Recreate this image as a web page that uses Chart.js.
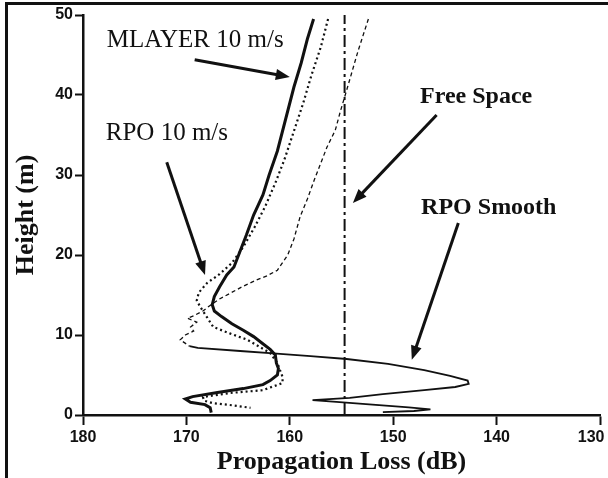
<!DOCTYPE html>
<html>
<head>
<meta charset="utf-8">
<script src="https://cdn.jsdelivr.net/npm/chart.js@4.4.0/dist/chart.umd.min.js"></script>
<style>
  html, body { margin: 0; padding: 0; background: #fff; }
  #wrap { position: relative; width: 608px; height: 478px; overflow: hidden; }
  #frame { position: absolute; left: 5px; top: 2px; right: -5px; bottom: -5px; border-left: 3px solid #111; border-top: 3px solid #111; }
  canvas { position: absolute; left: 0; top: 0; }
</style>
</head>
<body>
<div id="wrap"><div id="frame"></div><canvas id="chart" width="608" height="478"></canvas></div>
<script>
const ink = '#111';

// [propagation loss (dB), height (m)], top to bottom
const mlayer = [
  [157.7, 49.5], [158.3, 47], [158.9, 44], [159.6, 41], [160.4, 37], [161.2, 33],
  [162.0, 30], [162.6, 27.5], [163.5, 25], [164.2, 22.5], [164.8, 20.5], [165.4, 18.5],
  [166.1, 17.5], [166.8, 16.0], [167.3, 14.8], [167.5, 13.8], [167.3, 13.0], [166.6, 12.3],
  [165.6, 11.4], [164.5, 10.6], [163.5, 9.8], [162.7, 9.0], [161.9, 8.2], [161.4, 7.5],
  [161.3, 6.5], [161.1, 5.8], [161.2, 5.0], [161.9, 4.3], [162.6, 3.8], [164.5, 3.3],
  [167.0, 2.8], [169.4, 2.3], [170.1, 2.0], [169.6, 1.6], [168.2, 1.3], [167.7, 0.9], [167.6, 0.3]
];

const rpo10 = [
  [156.3, 49.5], [157.0, 46], [157.9, 42.5], [158.7, 39], [159.6, 35.5], [160.5, 32],
  [161.4, 29], [162.4, 26], [163.4, 23.5], [164.5, 21], [165.6, 19], [166.8, 17.6],
  [168.0, 16.5], [168.8, 15.3], [169.0, 14.3], [168.6, 13.4], [168.0, 12.2], [167.4, 11.0],
  [165.8, 10.2], [164.1, 9.4], [162.9, 8.5], [161.9, 7.75], [161.2, 6.5], [160.7, 4.75],
  [160.7, 4.0], [162.6, 3.1], [165.8, 2.75], [168.4, 2.25], [168.3, 1.8], [167.5, 1.5],
  [165.5, 1.2], [163.8, 0.9]
];

const rpoSmooth = [
  [152.4, 49.5], [153.4, 45.5], [154.5, 40.6], [155.1, 38], [155.6, 35.6], [156.4, 33.5],
  [157.0, 31.5], [157.6, 29.5], [158.3, 27], [159.0, 24.8], [159.6, 22], [160.2, 20],
  [161.2, 18.1], [162.2, 17.4], [163.2, 16.9], [164.5, 16.1], [165.8, 15.2], [166.8, 14.5],
  [167.6, 13.8], [168.4, 13.0], [169.3, 12.4], [169.9, 12.1], [169.0, 11.6], [169.6, 11.0],
  [169.3, 10.5], [170.1, 10.0], [170.6, 9.4], [169.7, 8.6], [168.9, 8.4], [164.8, 8.0],
  [161.6, 7.7], [158.0, 7.35], [154.5, 7.0], [150.5, 6.4], [147.0, 5.6], [144.5, 4.9],
  [142.8, 4.3], [142.7, 3.9], [144.0, 3.5], [147.0, 3.1], [151.0, 2.6], [154.2, 2.15],
  [157.8, 1.85], [155.5, 1.65], [152.0, 1.3], [148.5, 0.95], [146.4, 0.7], [148.0, 0.5], [151.0, 0.35]
];

const freeSpace = [[154.7, 0], [154.7, 50]];

const xTicks = [180, 170, 160, 150, 140, 130];
const yTicks = [0, 10, 20, 30, 40, 50];

// annotation labels and arrows, in data units
const noteText = ['MLAYER 10 m/s', 'RPO 10 m/s', 'Free Space', 'RPO Smooth'];
const noteLoss = [177.7, 177.8, 147.4, 147.3];
const noteHeight = [46, 34.4, 39, 25.1];
const noteBold = [false, false, true, true];
// [from loss, from height, to loss, to height]
const arrows = [
  [169.2, 44.4, 160.0, 42.25],
  [171.9, 31.6, 168.2, 17.5],
  [145.8, 37.5, 153.9, 26.5],
  [143.7, 24.0, 148.2, 6.9]
];

const toPoints = (rows) => rows.map(([x, y]) => ({ x, y }));

const notesPlugin = {
  id: 'notes',
  afterDatasetsDraw(chart) {
    const { ctx, scales: { x, y } } = chart;
    ctx.save();
    ctx.fillStyle = ink;
    ctx.strokeStyle = ink;
    arrows.forEach(([l0, h0, l1, h1]) => {
      const ax = x.getPixelForValue(l0), ay = y.getPixelForValue(h0);
      const bx = x.getPixelForValue(l1), by = y.getPixelForValue(h1);
      const ang = Math.atan2(by - ay, bx - ax);
      const c = Math.cos(ang), s = Math.sin(ang);
      const len = 14, half = 5.5;
      ctx.lineWidth = 3;
      ctx.beginPath();
      ctx.moveTo(ax, ay);
      ctx.lineTo(bx - len * 0.8 * c, by - len * 0.8 * s);
      ctx.stroke();
      ctx.beginPath();
      ctx.moveTo(bx, by);
      ctx.lineTo(bx - len * c + half * s, by - len * s - half * c);
      ctx.lineTo(bx - len * c - half * s, by - len * s + half * c);
      ctx.closePath();
      ctx.fill();
    });
    ctx.textBaseline = 'alphabetic';
    ctx.textAlign = 'left';
    noteText.forEach((t, i) => {
      ctx.font = noteBold[i] ? 'bold 24px "Liberation Serif"' : '25px "Liberation Serif"';
      ctx.fillText(t, x.getPixelForValue(noteLoss[i]), y.getPixelForValue(noteHeight[i]));
    });
    ctx.restore();
  }
};

const fixBox = (size) => (scale) => {
  if (scale.isHorizontal()) scale.height = size; else scale.width = size;
  scale.paddingLeft = 0; scale.paddingRight = 0;
  scale.paddingTop = 0; scale.paddingBottom = 0;
};

const tickFont = { family: '"Liberation Sans"', size: 16, weight: 'bold' };
const titleFont = { family: '"Liberation Serif"', size: 26, weight: 'bold' };

new Chart(document.getElementById('chart'), {
  type: 'scatter',
  data: {
    datasets: [
      {
        label: 'MLAYER 10 m/s', data: toPoints(mlayer), showLine: true,
        borderColor: ink, borderWidth: 3, pointRadius: 0, tension: 0
      },
      {
        label: 'RPO 10 m/s', data: toPoints(rpo10), showLine: true,
        borderColor: ink, borderWidth: 2.2, borderDash: [2, 3], pointRadius: 0, tension: 0
      },
      {
        label: 'RPO Smooth', data: toPoints(rpoSmooth), showLine: true,
        borderColor: ink, borderWidth: 1.4, pointRadius: 0, tension: 0,
        segment: {
          borderDash: (c) => (c.p0.parsed.y > 8.5 && c.p1.parsed.y > 8.5 ? [4, 3] : []),
          borderWidth: (c) => (c.p0.parsed.y > 8.5 && c.p1.parsed.y > 8.5 ? 1.3 : 1.8)
        }
      },
      {
        label: 'Free Space', data: toPoints(freeSpace), showLine: true,
        borderColor: ink, borderWidth: 2, borderDash: [12, 4, 3, 4], pointRadius: 0
      }
    ]
  },
  options: {
    responsive: false,
    animation: false,
    layout: { padding: { top: 15, right: 8, left: 0, bottom: 0 } },
    plugins: { legend: { display: false }, tooltip: { enabled: false } },
    scales: {
      x: {
        type: 'linear', reverse: true, min: 130, max: 180,
        afterBuildTicks: (s) => { s.ticks = xTicks.map((v) => ({ value: v })); },
        ticks: {
          color: ink, font: tickFont, padding: 3, maxRotation: 0,
          // last label sits left of its tick, inside the page
          callback: (v) => (v === 130 ? '130\u2007\u2007' : String(v))
        },
        grid: { drawOnChartArea: false, drawTicks: true, tickLength: 10, tickColor: ink, tickWidth: 2 },
        border: { display: true, color: ink, width: 2.5 },
        title: { display: true, text: 'Propagation Loss (dB)', color: ink, font: titleFont, padding: { top: 0, bottom: 0 } },
        afterFit: fixBox(63)
      },
      y: {
        type: 'linear', min: 0, max: 50,
        afterBuildTicks: (s) => { s.ticks = yTicks.map((v) => ({ value: v })); },
        ticks: { color: ink, font: tickFont, padding: 2 },
        grid: { drawOnChartArea: false, drawTicks: true, tickLength: 8, tickColor: ink, tickWidth: 2 },
        border: { display: true, color: ink, width: 2.5 },
        title: { display: true, text: 'Height (m)', color: ink, font: titleFont, padding: { top: 11, bottom: 0 } },
        afterFit: fixBox(83)
      }
    }
  },
  plugins: [notesPlugin]
});
</script>
</body>
</html>
